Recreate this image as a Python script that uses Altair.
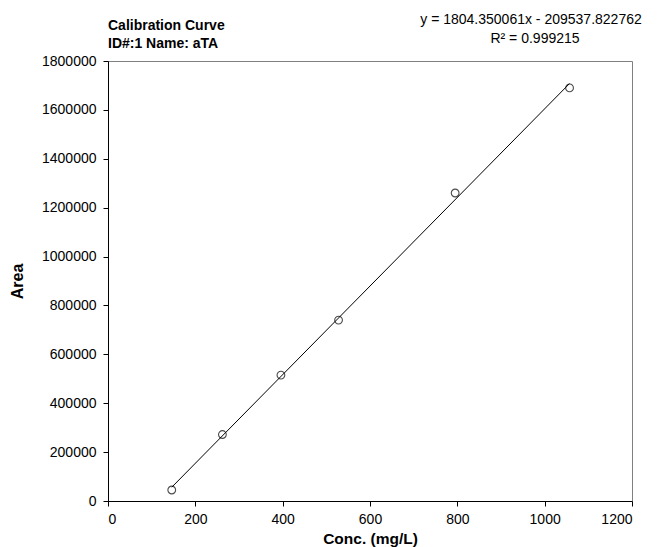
import altair as alt
import pandas as pd

conc = [146, 262, 396, 528, 795, 1057]
area = [45000, 272000, 515000, 740000, 1260000, 1690000]
title_lines = ["Calibration Curve", "ID#:1 Name: aTA"]
eq_lines = ["y = 1804.350061x - 209537.822762", "R\u00b2 = 0.999215"]
x_ticks = [0, 200, 400, 600, 800, 1000, 1200]
y_ticks = [0, 200000, 400000, 600000, 800000, 1000000, 1200000, 1400000, 1600000, 1800000]

df = pd.DataFrame({"conc": conc, "area": area})
FONT = "Liberation Sans"

xs = alt.Scale(domain=[0, 1200], nice=False, zero=False)
ys = alt.Scale(domain=[0, 1800000], nice=False, zero=False)

xax = alt.Axis(values=x_ticks, format="d", grid=False, domainColor="black", tickColor="black",
               tickSize=5, labelFontSize=14, labelFont=FONT, labelColor="black", labelPadding=6,
               title="Conc. (mg/L)", titleFont=FONT, titleFontSize=15.5, titleFontWeight="bold",
               titleColor="black", titleY=37, titleBaseline="middle")
yax = alt.Axis(values=y_ticks, format="d", grid=False, domainColor="black", tickColor="black",
               tickSize=5, labelFontSize=14, labelFont=FONT, labelColor="black", labelPadding=7,
               title="Area", titleFont=FONT, titleFontSize=16, titleFontWeight="bold",
               titleColor="black", titleX=-91, titleY=220, titleAngle=-90,
               titleAlign="center", titleBaseline="middle")

base = alt.Chart(df)

fit = base.transform_regression("conc", "area", method="linear").mark_line(
    color="black", strokeWidth=1
).encode(x=alt.X("conc:Q", scale=xs, axis=xax), y=alt.Y("area:Q", scale=ys, axis=yax))

pts = base.mark_point(shape="circle", filled=False, color="black", size=60, strokeWidth=1.1).encode(
    x=alt.X("conc:Q", scale=xs), y=alt.Y("area:Q", scale=ys)
)

t1 = alt.Chart(pd.DataFrame({"t": [title_lines[0]]})).mark_text(
    font=FONT, fontSize=14, fontWeight="bold", align="left", baseline="middle", color="black"
).encode(text="t:N", x=alt.value(0), y=alt.value(-35))
t2 = alt.Chart(pd.DataFrame({"t": [title_lines[1]]})).mark_text(
    font=FONT, fontSize=14, fontWeight="bold", align="left", baseline="middle", color="black"
).encode(text="t:N", x=alt.value(0), y=alt.value(-17))
e1 = alt.Chart(pd.DataFrame({"t": [eq_lines[0]]})).mark_text(
    font=FONT, fontSize=14, align="center", baseline="middle", color="black"
).encode(text="t:N", x=alt.value(423), y=alt.value(-41))
e2 = alt.Chart(pd.DataFrame({"t": [eq_lines[1]]})).mark_text(
    font=FONT, fontSize=14, align="center", baseline="middle", color="black"
).encode(text="t:N", x=alt.value(427), y=alt.value(-22))

chart = alt.layer(fit, pts, t1, t2, e1, e2).properties(
    width=524, height=440,
    autosize=alt.AutoSizeParams(type="none"),
    padding={"left": 100, "top": 53, "right": 19, "bottom": 46},
    background="white",
).configure_view(stroke="#808080", strokeWidth=1)

chart.save("out.html", embed_options={"renderer": "svg", "actions": False})
